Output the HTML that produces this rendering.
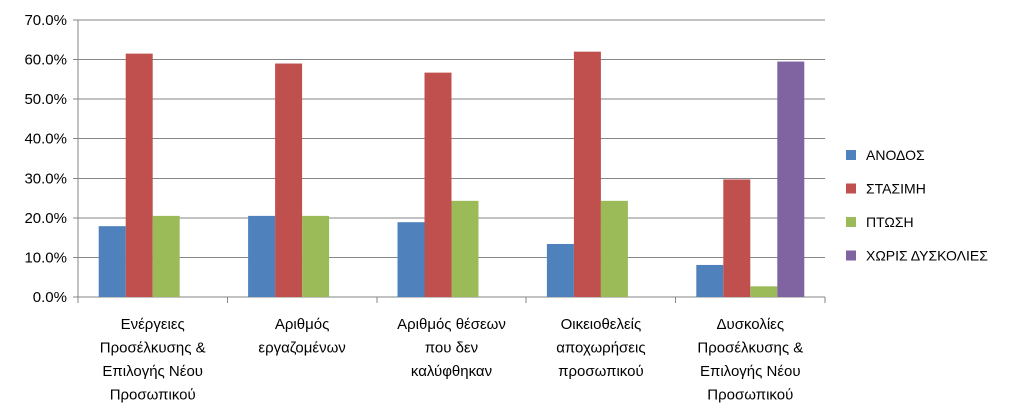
<!DOCTYPE html>
<html><head><meta charset="utf-8"><style>
html,body{margin:0;padding:0;background:#fff;}
svg{display:block;font-family:"Liberation Sans","DejaVu Sans",sans-serif;}
</style></head><body>
<svg id="chart" width="1024" height="416"></svg>
<script>
const categories=[["Ενέργειες","Προσέλκυσης &","Επιλογής Νέου","Προσωπικού"],["Αριθμός","εργαζομένων"],["Αριθμός θέσεων","που δεν","καλύφθηκαν"],["Οικειοθελείς","αποχωρήσεις","προσωπικού"],["Δυσκολίες","Προσέλκυσης &","Επιλογής Νέου","Προσωπικού"]];
const seriesNames=["ΑΝΟΔΟΣ","ΣΤΑΣΙΜΗ","ΠΤΩΣΗ","ΧΩΡΙΣ ΔΥΣΚΟΛΙΕΣ"];
const anodos=[17.9,20.5,18.9,13.4,8.1];
const stasimi=[61.5,59.0,56.7,62.0,29.7];
const ptosi=[20.5,20.5,24.3,24.3,2.7];
const xoris=[0,0,0,0,59.5];
const yTicks=[0,10,20,30,40,50,60,70];
const colors=["#4F81BD","#C0504D","#9BBB59","#8064A2"];
const series=[anodos,stasimi,ptosi,xoris];

const svg=document.getElementById('chart');
const NS="http://www.w3.org/2000/svg";
const X0=78,X1=825,Y0=297,Y1=20,YMAX=70;
const y=v=>Y0-(v/YMAX)*(Y0-Y1);
const catW=(X1-X0)/categories.length;
const barW=27;
function mk(t,a,p){const e=document.createElementNS(NS,t);for(const k in a)e.setAttribute(k,a[k]);(p||svg).appendChild(e);return e;}

yTicks.forEach(t=>{
  const g=mk('line',{x1:X0-5,x2:X1,y1:y(t),y2:y(t),stroke:t===0?'#868686':'#868686','stroke-width':1,'shape-rendering':'crispEdges'});
  
  
  const tx=mk('text',{x:67,y:y(t)+5,'text-anchor':'end','font-size':15,fill:'#000'});
  tx.textContent=t.toFixed(1)+'%';
  
  
});
const ax=mk('line',{x1:X0,x2:X0,y1:Y1,y2:Y0,stroke:'#868686','shape-rendering':'crispEdges'});


for(let i=0;i<=categories.length;i++){
  const tk=mk('line',{x1:X0+i*catW,x2:X0+i*catW,y1:Y0,y2:Y0+6,stroke:'#868686','shape-rendering':'crispEdges'});
  
  
}
categories.forEach((c,i)=>{
  const cx=X0+catW*(i+0.5);
  const start=cx-barW*series.length/2;
  series.forEach((s,j)=>{
    const v=s[i]; if(v<=0) return;
    const r=mk('rect',{x:start+j*barW,y:y(v),width:barW,height:Y0-y(v),fill:colors[j]});
    
    
  });
  c.forEach((ln,k)=>{
    const t=mk('text',{x:cx,y:329+k*23.5,'text-anchor':'middle','font-size':15,fill:'#000'});
    t.textContent=ln;
    
    
  });
});
seriesNames.forEach((n,j)=>{
  const ly=155+j*33.5;
  const sq=mk('rect',{x:846,y:ly-5,width:10,height:10,fill:colors[j]});
  
  
  const t=mk('text',{x:866,y:ly+5,'font-size':14,fill:'#000'});
  t.textContent=n;
  
  
});
</script>
</body></html>
